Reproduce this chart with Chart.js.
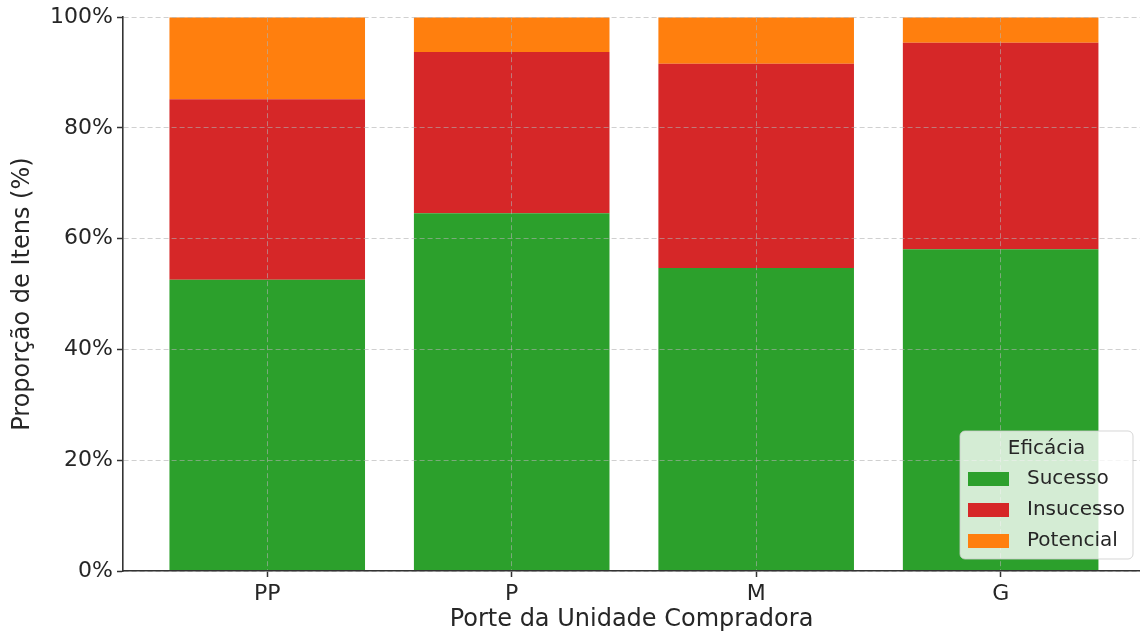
<!DOCTYPE html>
<html lang="pt-BR">
<head>
<meta charset="utf-8">
<title>Eficácia por Porte da Unidade Compradora</title>
<script src="https://cdn.jsdelivr.net/npm/chart.js@4/dist/chart.umd.min.js"></script>
<style>
  html, body { margin: 0; padding: 0; background: #fff; overflow: hidden; }
  #wrap { width: 1140px; height: 634px; position: relative; }
</style>
</head>
<body>
<div id="wrap"><canvas id="graficoEficacia"></canvas></div>
<script>
const portes = ["PP", "P", "M", "G"];
const sucesso = [52.6, 64.6, 54.7, 58.1];
const insucesso = [32.6, 29.1, 36.9, 37.3];
const potencial = [14.8, 6.3, 8.4, 4.6];
const ticksY = [0, 20, 40, 60, 80, 100];

const corTexto = "#262626";
const fonte = "'DejaVu Sans', sans-serif";

function serie(valores) {
  return valores.map((v, i) => ({ x: i, y: v }));
}

// legenda desenhada dentro da área do gráfico, canto inferior direito
const legendaInterna = {
  id: "legendaInterna",
  afterDraw(chart) {
    const ctx = chart.ctx;
    const area = chart.chartArea;
    const w = 173, h = 128;
    const x = area.right - 7 - w;
    const y = area.bottom - 12 - h;
    ctx.save();
    ctx.beginPath();
    ctx.roundRect(x, y, w, h, 5);
    ctx.fillStyle = "rgba(255,255,255,0.8)";
    ctx.fill();
    ctx.strokeStyle = "rgba(204,204,204,0.8)";
    ctx.lineWidth = 1;
    ctx.stroke();

    ctx.fillStyle = corTexto;
    ctx.font = "20px " + fonte;
    ctx.textBaseline = "middle";
    ctx.textAlign = "center";
    ctx.fillText("Eficácia", x + w / 2, y + 18);

    ctx.textAlign = "left";
    chart.data.datasets.forEach((ds, i) => {
      const cy = y + 48 + i * 31;
      ctx.fillStyle = ds.backgroundColor;
      ctx.fillRect(x + 8, cy - 7, 41, 14);
      ctx.fillStyle = corTexto;
      ctx.fillText(ds.label, x + 67, cy);
    });
    ctx.restore();
  }
};

const ctx = document.getElementById("graficoEficacia").getContext("2d");
new Chart(ctx, {
  type: "bar",
  data: {
    datasets: [
      { label: "Sucesso", data: serie(sucesso), backgroundColor: "#2ca02c" },
      { label: "Insucesso", data: serie(insucesso), backgroundColor: "#d62728" },
      { label: "Potencial", data: serie(potencial), backgroundColor: "#ff7f0e" }
    ]
  },
  options: {
    responsive: true,
    maintainAspectRatio: false,
    animation: false,
    categoryPercentage: 1,
    barPercentage: 0.8,
    layout: { padding: { top: 17, right: 0, left: 0, bottom: 0 } },
    plugins: {
      legend: { display: false },
      tooltip: { enabled: false }
    },
    scales: {
      x: {
        type: "linear",
        stacked: true,
        offset: false,
        min: -0.59,
        max: 3.57,
        z: 1,
        afterBuildTicks: (scale) => {
          scale.ticks = portes.map((_, i) => ({ value: i }));
        },
        afterFit: (scale) => { scale.height = 63; },
        ticks: {
          callback: (v) => portes[v],
          color: corTexto,
          font: { family: fonte, size: 22 },
          padding: 4,
          maxRotation: 0
        },
        // grade por cima das barras
        grid: {
          z: 1,
          offset: false,
          color: "rgba(176,176,176,0.6)",
          tickColor: "#333",
          tickLength: 6,
          tickWidth: 1.5
        },
        border: { display: true, z: 2, color: "#333", width: 1.6, dash: [5, 3] },
        title: {
          display: true,
          text: "Porte da Unidade Compradora",
          color: corTexto,
          font: { family: fonte, size: 24 },
          padding: 0
        }
      },
      y: {
        stacked: true,
        min: 0,
        max: 100,
        z: 1,
        afterBuildTicks: (scale) => {
          scale.ticks = ticksY.map(v => ({ value: v }));
        },
        afterFit: (scale) => { scale.width = 123; },
        ticks: {
          callback: (v) => v + "%",
          color: corTexto,
          font: { family: fonte, size: 22 },
          padding: 4
        },
        grid: {
          z: 1,
          color: "rgba(176,176,176,0.6)",
          tickColor: "#333",
          tickLength: 6,
          tickWidth: 1.5
        },
        border: { display: true, z: 2, color: "#333", width: 1.6, dash: [5, 3] },
        title: {
          display: true,
          text: "Proporção de Itens (%)",
          color: corTexto,
          font: { family: fonte, size: 24 },
          padding: { top: 8, bottom: 0 }
        }
      }
    }
  },
  plugins: [legendaInterna]
});
</script>
</body>
</html>
